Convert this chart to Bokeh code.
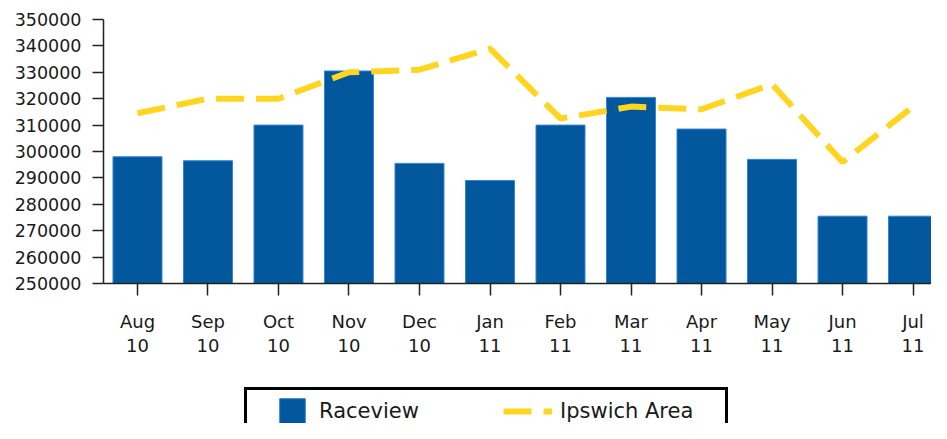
from bokeh.plotting import figure
from bokeh.layouts import column
from bokeh.models import Range1d, FixedTicker, NumeralTickFormatter, Legend, LegendItem
from bokeh.embed import file_html
from bokeh.resources import INLINE

# ---- data ----
months = ["Aug", "Sep", "Oct", "Nov", "Dec", "Jan", "Feb", "Mar", "Apr", "May", "Jun", "Jul"]
years = ["10", "10", "10", "10", "10", "11", "11", "11", "11", "11", "11", "11"]
raceview = [298000, 296500, 310000, 330500, 295500, 289000, 310000, 320500, 308500, 297000, 275500, 275500]
ipswich = [314500, 320000, 320000, 330000, 331000, 339000, 312500, 317000, 316000, 325500, 296000, 317000]
y_ticks = [250000, 260000, 270000, 280000, 290000, 300000, 310000, 320000, 330000, 340000, 350000]

x_idx = list(range(len(months)))

BAR_FILL = "#02579D"
BAR_LINE = "#2E86D6"
LINE_COLOR = "#FFD520"

p = figure(width=931, height=375, output_backend="svg", toolbar_location=None,
           x_range=Range1d(-0.482, 11.262), y_range=Range1d(250000, 350000),
           min_border_left=103, min_border_right=0, min_border_top=19, min_border_bottom=92)
p.xgrid.visible = False
p.ygrid.visible = False
p.outline_line_color = None
p.background_fill_color = "white"
p.border_fill_color = "white"

bars = p.vbar(x=x_idx, top=raceview, bottom=250000, width=0.695,
              fill_color=BAR_FILL, line_color=BAR_LINE, line_width=1)
line = p.line(x=x_idx, y=ipswich, line_color=LINE_COLOR, line_width=6, line_dash="28 12")

for ax in (p.xaxis[0], p.yaxis[0]):
    ax.axis_line_color = "#222222"
    ax.axis_line_width = 1.5
    ax.major_tick_line_color = "#222222"
    ax.major_tick_line_width = 1.5
    ax.minor_tick_line_color = None
    ax.major_tick_in = 0
    ax.major_label_text_font = "DejaVu Sans"
    ax.major_label_text_color = "#1a1a1a"

p.yaxis.ticker = FixedTicker(ticks=y_ticks)
p.yaxis.formatter = NumeralTickFormatter(format="0")
p.yaxis.major_tick_out = 11
p.yaxis.major_label_standoff = 11
p.yaxis.major_label_text_font_size = "17.5px"

p.xaxis.ticker = FixedTicker(ticks=x_idx)
p.xaxis.major_label_overrides = {i: f"{m}\n{y}" for i, (m, y) in enumerate(zip(months, years))}
p.xaxis.major_tick_out = 12
p.xaxis.major_label_standoff = 15
p.xaxis.major_label_text_font_size = "18px"
p.xaxis.major_label_text_line_height = 1.15

# ---- legend strip: a second figure whose renderers lie outside its ranges, used only for the key ----
q = figure(width=931, height=48, output_backend="svg", toolbar_location=None,
           x_range=Range1d(-100, -99), y_range=Range1d(-100, -99),
           x_axis_location=None, y_axis_location=None,
           min_border_left=0, min_border_right=0, min_border_top=0, min_border_bottom=0)
q.xgrid.visible = False
q.ygrid.visible = False
q.outline_line_color = None
q.background_fill_color = "white"
q.border_fill_color = "white"

lb = q.vbar(x=x_idx, top=raceview, bottom=250000, width=0.695,
            fill_color=BAR_FILL, line_color=BAR_LINE, line_width=1)
ll = q.line(x=x_idx, y=ipswich, line_color=LINE_COLOR, line_width=6, line_dash="28 12")
dummy = q.scatter(x=[], y=[], fill_alpha=0, line_alpha=0)

# column aligns frames, so q's frame starts at x=103
leg_frame = Legend(items=[LegendItem(label=" ", renderers=[dummy])], location=(140.5, -26),
                   glyph_width=1, glyph_height=32, padding=12, label_width=448, label_standoff=5,
                   border_line_color="black", border_line_width=3, border_line_alpha=1,
                   background_fill_color="white", background_fill_alpha=1,
                   label_text_alpha=0, margin=0, orientation="horizontal")
leg_bar = Legend(items=[LegendItem(label="Raceview", renderers=[lb])], location=(173, -4),
                 glyph_width=32, glyph_height=32, padding=0, label_standoff=11, spacing=0,
                 border_line_color=None, background_fill_alpha=0, margin=0,
                 label_text_font="DejaVu Sans", label_text_font_size="21px", label_text_color="#1a1a1a")
leg_line = Legend(items=[LegendItem(label="Ipswich Area", renderers=[ll])], location=(400, -4),
                  glyph_width=49, glyph_height=32, padding=0, label_standoff=8, spacing=0,
                  border_line_color=None, background_fill_alpha=0, margin=0,
                  label_text_font="DejaVu Sans", label_text_font_size="21px", label_text_color="#1a1a1a")
q.add_layout(leg_frame, "center")
q.add_layout(leg_bar, "center")
q.add_layout(leg_line, "center")

layout = column(p, q, spacing=0)
open("out.html", "w").write(file_html(layout, INLINE))
